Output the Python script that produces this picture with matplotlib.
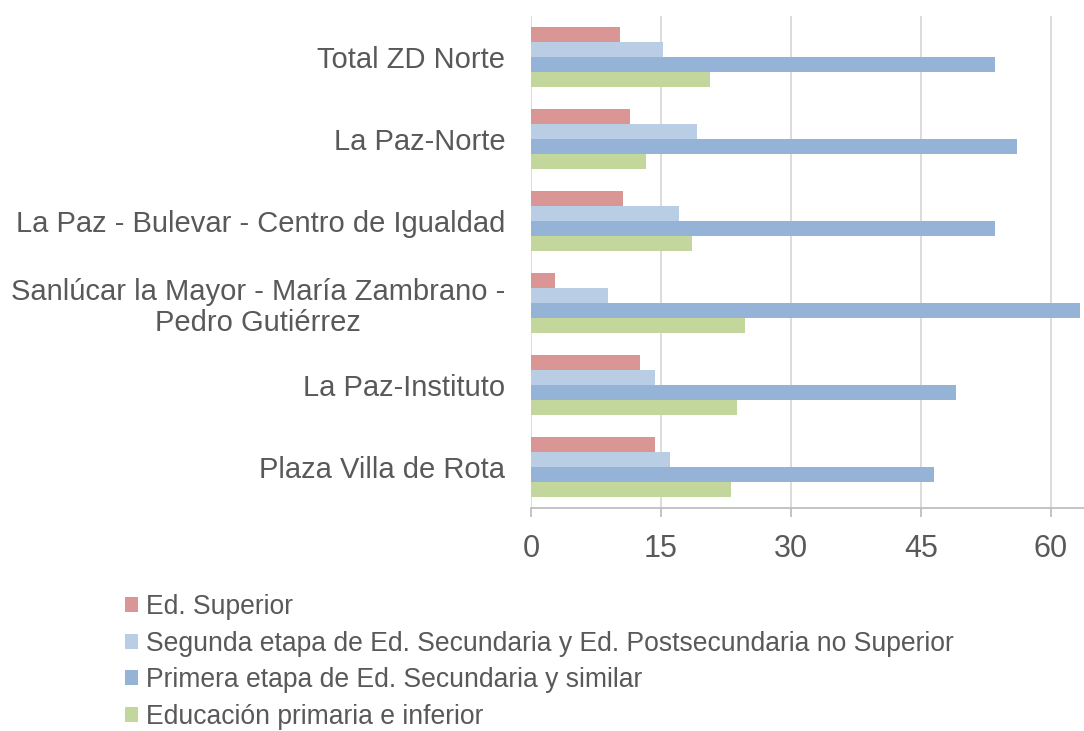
import matplotlib
matplotlib.use("Agg")
import matplotlib.pyplot as plt
import numpy as np

# data (percent)
categories = [
    "Total ZD Norte",
    "La Paz-Norte",
    "La Paz - Bulevar - Centro de Igualdad",
    "Sanlúcar la Mayor - María Zambrano -\nPedro Gutiérrez",
    "La Paz-Instituto",
    "Plaza Villa de Rota",
]
series_names = [
    "Ed. Superior",
    "Segunda etapa de Ed. Secundaria y Ed. Postsecundaria no Superior",
    "Primera etapa de Ed. Secundaria y similar",
    "Educación primaria e inferior",
]
ed_superior = [10.3, 11.4, 10.6, 2.8, 12.6, 14.3]
segunda_etapa = [15.2, 19.1, 17.1, 8.9, 14.3, 16.0]
primera_etapa = [53.6, 56.1, 53.6, 63.3, 49.1, 46.5]
primaria = [20.7, 13.3, 18.6, 24.7, 23.8, 23.1]
colors = ["#D99694", "#B9CDE5", "#95B3D7", "#C3D69B"]

plt.rcParams["font.family"] = ["Liberation Sans", "DejaVu Sans"]
text_col = "#595959"

fig = plt.figure(figsize=(10.84, 7.31), dpi=100)
ax = fig.add_axes([531 / 1084, 1 - 508 / 731, (1083 - 531) / 1084, (508 - 16) / 731])

y = np.arange(len(categories))
h = 0.183
values = [ed_superior, segunda_etapa, primera_etapa, primaria]
for k, (vals, name, col) in enumerate(zip(values, series_names, colors)):
    ax.barh(y + (k - 1.5) * h, vals, height=h, color=col, label=name, zorder=2)

ax.set_ylim(len(categories) - 0.5, -0.5)
ax.set_xlim(0, 63.7)
ax.set_xticks([0, 15, 30, 45, 60])
ax.set_yticks(y)
ax.set_yticklabels(categories, linespacing=1.15)
for lab in ax.get_yticklabels():
    lab.set_multialignment("center")

ax.grid(axis="x", color="#D9D9D9", linewidth=1.3, zorder=0)
for s in ("top", "right", "left"):
    ax.spines[s].set_visible(False)
ax.spines["bottom"].set_color("#BFBFBF")
ax.spines["bottom"].set_linewidth(1.3)
ax.tick_params(axis="y", length=0, pad=18.5, labelsize=21.0, labelcolor=text_col)
ax.tick_params(axis="x", length=6.5, width=1.3, color="#BFBFBF", pad=12.5,
               labelsize=22, labelcolor=text_col)

# legend sits low, as in the reference; keep last row just inside the canvas
fig.legend(loc="upper left", bbox_to_anchor=(125 / 1084, 1 - 594 / 731),
           frameon=False, fontsize=19.1, labelcolor=text_col,
           handlelength=0.5, handleheight=0.5, handletextpad=0.3,
           labelspacing=0.40, borderpad=0, borderaxespad=0)

fig.savefig("out.png", dpi=100)
